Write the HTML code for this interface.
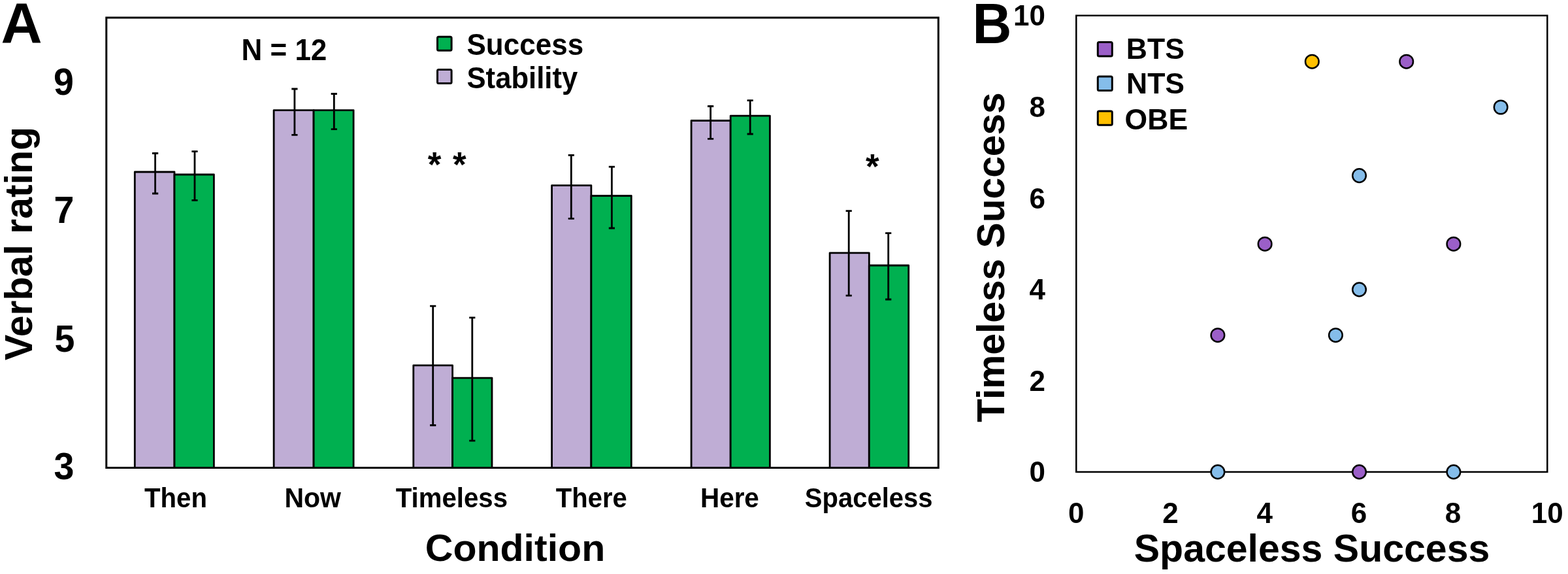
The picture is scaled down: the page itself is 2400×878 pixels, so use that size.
<!DOCTYPE html>
<html><head><meta charset="utf-8"><title>Figure</title>
<style>
html,body{margin:0;padding:0;background:#fff;}
body{width:2400px;height:878px;overflow:hidden;}
svg{display:block;}
text{font-family:'Liberation Sans', Arial, sans-serif;font-weight:bold;fill:#000;}
</style></head><body>
<svg width="2400" height="878" viewBox="0 0 2400 878">
<rect x="0" y="0" width="2400" height="878" fill="#fff"/>

<g stroke="#000" stroke-width="2.8" stroke-linejoin="round">
<rect x="206.3" y="263.0" width="60.7" height="452.5" fill="#BFADD5"/>
<rect x="267.0" y="267.0" width="60.4" height="448.5" fill="#00B050"/>
<rect x="419.1" y="168.6" width="61.0" height="546.9" fill="#BFADD5"/>
<rect x="480.1" y="168.6" width="61.0" height="546.9" fill="#00B050"/>
<rect x="632.8" y="558.9" width="59.8" height="156.6" fill="#BFADD5"/>
<rect x="692.6" y="578.1" width="60.4" height="137.4" fill="#00B050"/>
<rect x="844.6" y="283.6" width="60.3" height="431.9" fill="#BFADD5"/>
<rect x="904.9" y="299.5" width="61.4" height="416.0" fill="#00B050"/>
<rect x="1058.1" y="184.5" width="60.1" height="531.0" fill="#BFADD5"/>
<rect x="1118.2" y="177.1" width="60.2" height="538.4" fill="#00B050"/>
<rect x="1270.1" y="386.8" width="60.2" height="328.7" fill="#BFADD5"/>
<rect x="1330.3" y="406.0" width="60.4" height="309.5" fill="#00B050"/>
</g>
<g stroke="#000" stroke-width="2.8" fill="none">
<path d="M237.6 234.5V296.0M233.0 234.5H242.2M233.0 296.0H242.2"/>
<path d="M298.0 231.7V306.3M293.4 231.7H302.6M293.4 306.3H302.6"/>
<path d="M450.9 136.0V206.3M446.3 136.0H455.5M446.3 206.3H455.5"/>
<path d="M511.3 143.5V197.6M506.7 143.5H515.9M506.7 197.6H515.9"/>
<path d="M662.7 468.2V650.5M658.1 468.2H667.3M658.1 650.5H667.3"/>
<path d="M722.8 485.9V674.1M718.2 485.9H727.4M718.2 674.1H727.4"/>
<path d="M874.3 237.4V334.3M869.7 237.4H878.9M869.7 334.3H878.9"/>
<path d="M936.4 255.1V349.0M931.8 255.1H941.0M931.8 349.0H941.0"/>
<path d="M1087.6 162.5V212.4M1083.0 162.5H1092.2M1083.0 212.4H1092.2"/>
<path d="M1148.2 153.6V205.0M1143.6 153.6H1152.8M1143.6 205.0H1152.8"/>
<path d="M1299.2 322.7V452.1M1294.6 322.7H1303.8M1294.6 452.1H1303.8"/>
<path d="M1359.7 356.7V458.0M1355.1 356.7H1364.3M1355.1 458.0H1364.3"/>
</g>
<rect x="162.8" y="27" width="1273.5" height="688.5" fill="none" stroke="#000" stroke-width="3"/>
<rect x="669.5" y="56.3" width="21.6" height="21" rx="2" fill="#00B050" stroke="#000" stroke-width="3"/>
<rect x="669.5" y="106.4" width="21.6" height="21" rx="2" fill="#BFADD5" stroke="#000" stroke-width="3"/>
<text transform="translate(714.5 84.3) scale(0.9680 1)" font-size="45.5">Success</text>
<text transform="translate(714.5 135.4) scale(0.9600 1)" font-size="45.5">Stability</text>
<text transform="translate(434.9 91.8) scale(0.9490 1)" font-size="46.4" text-anchor="middle">N = 12</text>
<text transform="translate(665 270)" font-size="53" text-anchor="middle">*</text>
<text transform="translate(703.3 270)" font-size="53" text-anchor="middle">*</text>
<text transform="translate(1335.3 273)" font-size="53" text-anchor="middle">*</text>
<text transform="translate(113 144.9) scale(0.9670 1)" font-size="57.5" text-anchor="end">9</text>
<text transform="translate(113.3 340.6) scale(0.9670 1)" font-size="57.5" text-anchor="end">7</text>
<text transform="translate(114.5 537.5) scale(0.9670 1)" font-size="57.5" text-anchor="end">5</text>
<text transform="translate(113.5 733.2) scale(0.9670 1)" font-size="57.5" text-anchor="end">3</text>
<text transform="translate(269 775.8) scale(0.9489 1)" font-size="42.3" text-anchor="middle">Then</text>
<text transform="translate(478.7 775.8) scale(0.9693 1)" font-size="42.3" text-anchor="middle">Now</text>
<text transform="translate(691.4 775.8) scale(0.9499 1)" font-size="42.3" text-anchor="middle">Timeless</text>
<text transform="translate(905.3 775.8) scale(0.9460 1)" font-size="42.3" text-anchor="middle">There</text>
<text transform="translate(1116.9 775.8) scale(0.9557 1)" font-size="42.3" text-anchor="middle">Here</text>
<text transform="translate(1329.7 775.8) scale(0.9460 1)" font-size="42.3" text-anchor="middle">Spaceless</text>
<text transform="translate(788.5 858) scale(1.0130 1)" font-size="58.3" text-anchor="middle">Condition</text>
<text transform="translate(49 372.6) rotate(-90) scale(1.0090 1)" font-size="58.5" text-anchor="middle">Verbal rating</text>
<text transform="translate(1.4 65.4)" font-size="87.4">A</text>
<text transform="translate(1488.4 66) scale(0.9490 1)" font-size="87.4">B</text>
<rect x="1647.3" y="23.8" width="721.0" height="698.1" fill="none" stroke="#000" stroke-width="2.5"/>
<text x="1600" y="737.4" font-size="44" text-anchor="end">0</text>
<text x="1647.3" y="800.4" font-size="44" text-anchor="middle">0</text>
<text x="1600" y="597.8" font-size="44" text-anchor="end">2</text>
<text x="1791.5" y="800.4" font-size="44" text-anchor="middle">2</text>
<text x="1600" y="458.2" font-size="44" text-anchor="end">4</text>
<text x="1935.7" y="800.4" font-size="44" text-anchor="middle">4</text>
<text x="1600" y="318.5" font-size="44" text-anchor="end">6</text>
<text x="2079.9" y="800.4" font-size="44" text-anchor="middle">6</text>
<text x="1600" y="178.9" font-size="44" text-anchor="end">8</text>
<text x="2224.1" y="800.4" font-size="44" text-anchor="middle">8</text>
<text x="1600" y="39.3" font-size="44" text-anchor="end">10</text>
<text x="2368.3" y="800.4" font-size="44" text-anchor="middle">10</text>
<g stroke="#000" stroke-width="2.5">
<circle cx="2152.7" cy="94.2" r="10.3" fill="#9B5FC8"/>
<circle cx="1936.1" cy="373.2" r="10.3" fill="#9B5FC8"/>
<circle cx="2224.9" cy="373.2" r="10.3" fill="#9B5FC8"/>
<circle cx="1863.9" cy="512.7" r="10.3" fill="#9B5FC8"/>
<circle cx="2080.5" cy="721.9" r="10.3" fill="#9B5FC8"/>
<circle cx="2297.1" cy="164.0" r="10.3" fill="#85BDEA"/>
<circle cx="2080.5" cy="268.6" r="10.3" fill="#85BDEA"/>
<circle cx="2080.5" cy="442.9" r="10.3" fill="#85BDEA"/>
<circle cx="2044.4" cy="512.7" r="10.3" fill="#85BDEA"/>
<circle cx="1863.9" cy="721.9" r="10.3" fill="#85BDEA"/>
<circle cx="2224.9" cy="721.9" r="10.3" fill="#85BDEA"/>
<circle cx="2008.3" cy="94.2" r="10.3" fill="#FFC000"/>
</g>
<rect x="1680.3" y="64.6" width="22" height="21.3" rx="2" fill="#9B5FC8" stroke="#000" stroke-width="3"/>
<text transform="translate(1723.8 90.1) scale(0.9900 1)" font-size="45">BTS</text>
<rect x="1680.3" y="117.1" width="22" height="21.3" rx="2" fill="#85BDEA" stroke="#000" stroke-width="3"/>
<text transform="translate(1724.0 143.3) scale(0.9900 1)" font-size="45">NTS</text>
<rect x="1680.3" y="169.9" width="22" height="21.3" rx="2" fill="#FFC000" stroke="#000" stroke-width="3"/>
<text transform="translate(1721.6 198) scale(0.9900 1)" font-size="45">OBE</text>
<text transform="translate(2008 858.9)" font-size="59" text-anchor="middle">Spaceless Success</text>
<text transform="translate(1536.9 393.6) rotate(-90)" font-size="58.7" text-anchor="middle">Timeless Success</text>
</svg>
</body></html>
